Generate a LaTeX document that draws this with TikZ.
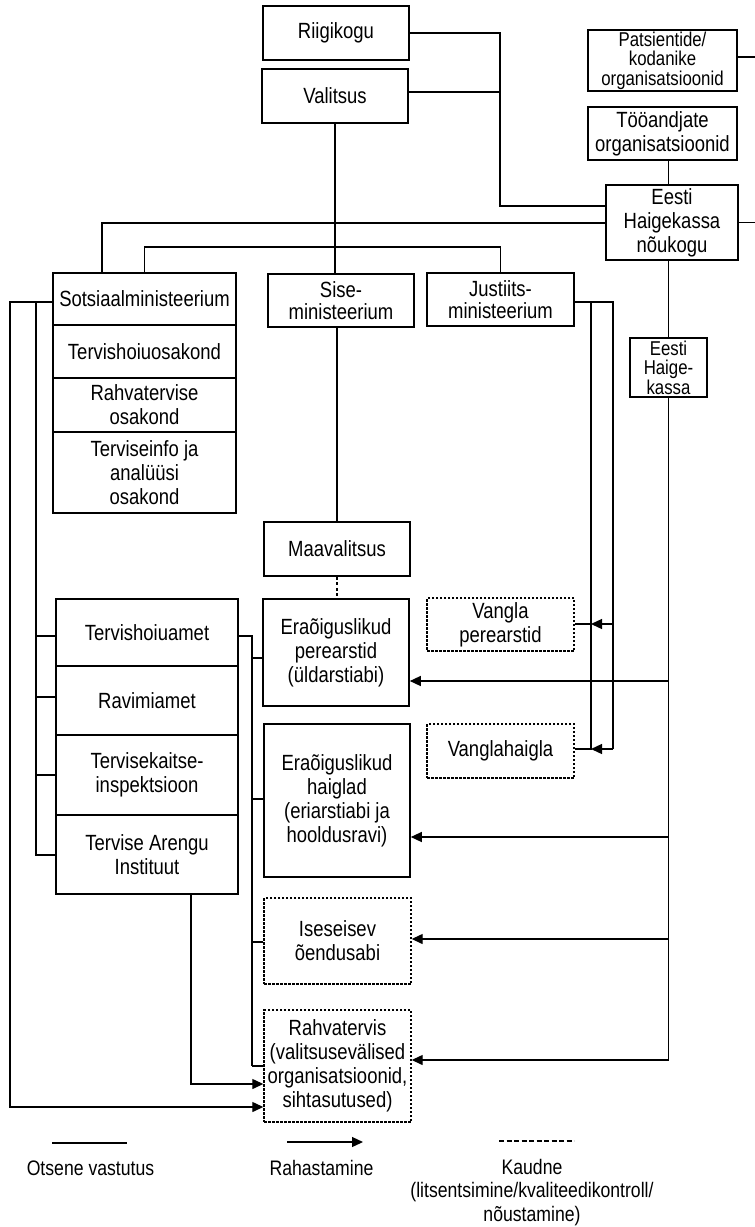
\documentclass[tikz,border=0pt]{standalone}
\usepackage{fontspec}
\setmainfont[FakeStretch=0.84]{Liberation Sans}
\usetikzlibrary{arrows.meta}

\tikzset{
  box/.style={draw, line width=1.6pt, inner sep=0pt, align=center, font=\fontsize{22}{24}\selectfont},
  bigbox/.style={box, line width=2pt},
  dotbox/.style={box, line width=1.4pt, dash pattern=on 2.5pt off 1.5pt},
  link/.style={line width=1.3pt},
  legend/.style={align=center, inner sep=0pt, font=\fontsize{21}{23.5}\selectfont},
}

\begin{document}
\begin{tikzpicture}[x=1pt, y=-1pt, >={Triangle[length=11pt,width=10pt]}]
\useasboundingbox (0,0) rectangle (755,1227);

% government
\node[bigbox, minimum width=146, minimum height=54] (riigikogu) at (336,33) {Riigikogu};
\node[bigbox, minimum width=146, minimum height=54] (valitsus) at (335,96) {Valitsus};

% health insurance fund
\node[box, minimum width=149, minimum height=61, font=\fontsize{20}{19.5}\selectfont] (patsiendid) at (662.5,60.5) {Patsientide/\\kodanike\\organisatsioonid};
\node[box, minimum width=149, minimum height=53] (tooandjad) at (662.5,133.5) {Tööandjate\\organisatsioonid};
\node[box, minimum width=132, minimum height=75] (noukogu) at (672,222.5) {Eesti\\Haigekassa\\nõukogu};
\node[box, minimum width=77, minimum height=59, font=\fontsize{20}{19.5}\selectfont] (haigekassa) at (668.5,367.5) {Eesti\\Haige-\\kassa};

% ministries
\node[bigbox, minimum width=183, minimum height=52] (sotsiaal) at (144.5,299) {Sotsiaalministeerium};
\node[box, minimum width=183, minimum height=53] (tervosak) at (144.5,351.5) {Tervishoiuosakond};
\node[box, minimum width=183, minimum height=54] (rahvosak) at (144.5,405) {Rahvatervise\\osakond};
\node[box, minimum width=183, minimum height=81] (tervinfo) at (144.5,472.5) {Terviseinfo ja\\analüüsi\\osakond};
\node[bigbox, minimum width=146, minimum height=53, font=\fontsize{22}{22}\selectfont] (sise) at (341,300.5) {Sise-\\ministeerium};
\node[bigbox, minimum width=147, minimum height=53, font=\fontsize{22}{22}\selectfont] (justiits) at (500.5,299.5) {Justiits-\\ministeerium};

% agencies
\node[box, minimum width=182, minimum height=67] (tervamet) at (147,632.5) {Tervishoiuamet};
\node[box, minimum width=182, minimum height=69] (ravimiamet) at (147,700.5) {Ravimiamet};
\node[box, minimum width=182, minimum height=80] (tervkaitse) at (147,775) {Tervisekaitse-\\inspektsioon};
\node[box, minimum width=182, minimum height=79] (tai) at (147,854.5) {Tervise Arengu\\Instituut};

% providers
\node[box, minimum width=146, minimum height=54] (maavalitsus) at (337,549) {Maavalitsus};
\node[box, minimum width=146, minimum height=107] (perearstid) at (336,652.5) {Eraõiguslikud\\perearstid\\(üldarstiabi)};
\node[box, minimum width=146, minimum height=153] (haiglad) at (337,800.5) {Eraõiguslikud\\haiglad\\(eriarstiabi ja\\hooldusravi)};
\node[dotbox, minimum width=147, minimum height=86] (iseseisev) at (337.5,941) {Iseseisev\\õendusabi};
\node[dotbox, minimum width=147, minimum height=112] (rahvatervis) at (337.5,1066) {Rahvatervis\\(valitsusevälised\\organisatsioonid,\\sihtasutused)};
\node[dotbox, minimum width=147, minimum height=53] (vperearstid) at (500.5,624.5) {Vangla\\perearstid};
\node[dotbox, minimum width=147, minimum height=54] (vhaigla) at (500.5,751) {Vanglahaigla};

% top connectors
\coordinate (rk) at (500,206);
\draw[link] (riigikogu.east) -| (rk) -- (rk -| noukogu.west);
\draw[link] (valitsus.east |- 0,92) -- (rk |- 0,92);
\draw[link] (valitsus.south) -- (valitsus.south |- sise.north);
\coordinate (vb) at (102,223);
\draw[link] (vb -| noukogu.west) -- (vb) -- (vb |- sotsiaal.north);
\coordinate (mb) at (0,247);
\draw[link] (sotsiaal.north) |- (mb -| justiits.north) -- (justiits.north);
\coordinate (re) at (760,0);
\draw[link] (patsiendid.east |- 0,57) -| (re |- noukogu.east) -- (noukogu.east);
\draw[link] (haigekassa.north |- tooandjad.south) -- (haigekassa.north |- noukogu.north);
\draw[link] (haigekassa.north |- noukogu.south) -- (haigekassa.north);

% haigekassa funding
\coordinate (hk) at (668.5,1060);
\draw[link] (haigekassa.south) -- (hk);
\foreach \n/\y in {perearstid/681, haiglad/837, iseseisev/939, rahvatervis/1060}
  \draw[link,->] (hk |- 0,\y) -- (\n.east |- 0,\y);

% justiits
\coordinate (ja) at (591,302);
\coordinate (jb) at (613,302);
\draw[link] (justiits.east |- ja) -- (jb) -- (jb |- 0,749);
\draw[link] (ja) -- (ja |- 0,749) -- (vhaigla.east |- 0,749);
\draw[link] (ja |- 0,624) -- (vperearstid.east |- 0,624);
\draw[link,->] (jb |- 0,624) -- (ja |- 0,624);
\draw[link,->] (jb |- 0,749) -- (ja |- 0,749);

% sotsiaal
\coordinate (la) at (10,302);
\coordinate (lb) at (36,302);
\draw[link,->] (sotsiaal.west |- la) -- (la) |- (rahvatervis.west |- 0,1107);
\draw[link] (lb) -- (lb |- 0,855) -- (tai.west |- 0,855);
\foreach \n/\y in {tervamet/636, ravimiamet/697, tervkaitse/775}
  \draw[link] (lb |- 0,\y) -- (\n.west |- 0,\y);

% tervishoiuamet
\coordinate (ta) at (252,636);
\draw[link] (tervamet.east |- ta) -- (ta) -- (ta |- 0,1066);
\foreach \n/\y in {perearstid/658, haiglad/799, iseseisev/942, rahvatervis/1066}
  \draw[link] (ta |- 0,\y) -- (\n.west |- 0,\y);
\draw[link,->] (tai.south -| 191,0) |- (rahvatervis.west |- 0,1084);

% sise
\draw[link] (maavalitsus.north |- sise.south) -- (maavalitsus.north);
\draw[link, dash pattern=on 3pt off 2.5pt] (maavalitsus.south) -- (maavalitsus.south |- perearstid.north);

% legend
\coordinate (lg1a) at (52,1143);
\coordinate (lg1b) at (127,1143);
\coordinate (lg2a) at (287,1142);
\coordinate (lg2b) at (363,1142);
\coordinate (lg3a) at (499,1141);
\coordinate (lg3b) at (574,1141);
\draw[link] (lg1a) -- (lg1b);
\draw[link,->] (lg2a) -- (lg2b);
\draw[link, dash pattern=on 5pt off 2.5pt] (lg3a) -- (lg3b);
\node[legend, anchor=base] (otsene) at (90.5,1175) {Otsene vastutus};
\node[legend, anchor=base] (rahastamine) at (321.5,1175) {Rahastamine};
\node[legend, anchor=north] (kaudne) at (532,1159) {Kaudne\\(litsentsimine/kvaliteedikontroll/\\nõustamine)};
\end{tikzpicture}
\end{document}
